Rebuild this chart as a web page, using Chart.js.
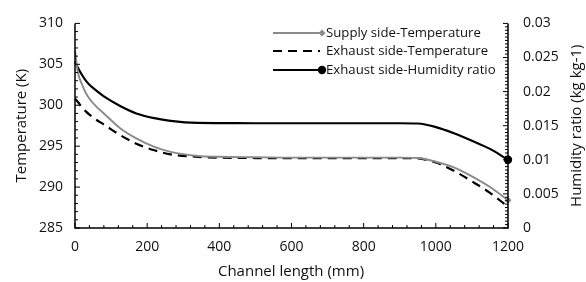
<!doctype html>
<html lang="en">
<head>
<meta charset="utf-8" />
<script src="https://cdn.jsdelivr.net/npm/chart.js@4.4.3/dist/chart.umd.min.js"></script>
<style>
  html, body { margin: 0; padding: 0; background: #fff; }
  #wrap { width: 586px; height: 282px; }
</style>
</head>
<body>
<div id="wrap"><canvas id="chart" width="586" height="282"></canvas></div>
<script>
const channelLength = [0, 8, 20, 30, 40, 60, 80, 125, 170, 220, 265, 340, 400, 500, 600, 700, 800, 900, 950, 1000, 1050, 1100, 1150, 1200];
const supplyTemp = [306.7, 304.0, 302.5, 301.5, 300.8, 299.8, 299.0, 297.2, 295.95, 294.9, 294.3, 293.8, 293.7, 293.65, 293.6, 293.6, 293.6, 293.6, 293.55, 293.1, 292.4, 291.3, 290.0, 288.4];
const exhaustTemp = [300.8, 300.4, 299.7, 299.25, 298.85, 298.2, 297.65, 296.35, 295.3, 294.5, 294.0, 293.7, 293.6, 293.55, 293.55, 293.55, 293.55, 293.55, 293.5, 293.0, 292.0, 290.7, 289.3, 287.6];
const exhaustHumidity = [0.0244, 0.0235, 0.0224, 0.0216, 0.0210, 0.0201, 0.0193, 0.0179, 0.0168, 0.0161, 0.0157, 0.0154, 0.01538, 0.01536, 0.01536, 0.01536, 0.01536, 0.01536, 0.01532, 0.0148, 0.0139, 0.0128, 0.0116, 0.0100];
const seriesNames = ["Supply side-Temperature", "Exhaust side-Temperature", "Exhaust side-Humidity ratio"];
const xTitle = "Channel length (mm)";
const yTitle = "Temperature (K)";
const y1Title = "Humidity ratio (kg kg-1)";

const FONT = '"Open Sans", sans-serif';
const TEXT = "#111";

function pts(ys) {
  return channelLength.map((x, i) => ({ x, y: ys[i] }));
}
function lastOnly(r) {
  return channelLength.map((_, i) => (i === channelLength.length - 1 ? r : 0));
}

const axesPlugin = {
  id: "axesPlugin",
  afterDraw(chart) {
    const ctx = chart.ctx;
    const a = chart.chartArea;
    const x = chart.scales.x, y = chart.scales.y, y1 = chart.scales.y1;
    ctx.save();
    ctx.strokeStyle = "#000";
    ctx.lineWidth = 1.5;
    ctx.beginPath();
    ctx.moveTo(a.left, a.top); ctx.lineTo(a.left, a.bottom); ctx.lineTo(a.right, a.bottom); ctx.lineTo(a.right, a.top);
    ctx.stroke();

    ctx.lineWidth = 1;
    ctx.beginPath();
    for (let v = 0; v <= 1200; v += 40) {
      const px = x.getPixelForValue(v);
      const len = v % 200 === 0 ? 5 : 3;
      ctx.moveTo(px, a.bottom); ctx.lineTo(px, a.bottom - len);
    }
    for (let v = 285; v <= 310; v += 1) {
      const py = y.getPixelForValue(v);
      const len = v % 5 === 0 ? 5 : 3;
      ctx.moveTo(a.left, py); ctx.lineTo(a.left + len, py);
    }
    for (let k = 0; k <= 60; k += 1) {
      const py = y1.getPixelForValue(k * 0.0005);
      const len = k % 10 === 0 ? 5 : 3;
      ctx.moveTo(a.right, py); ctx.lineTo(a.right - len, py);
    }
    ctx.stroke();

    // titles
    ctx.fillStyle = TEXT;
    ctx.font = "15px " + FONT;
    ctx.textAlign = "center";
    ctx.textBaseline = "middle";
    ctx.fillText(xTitle, 291, 272);
    ctx.save();
    ctx.translate(22, (a.top + a.bottom) / 2);
    ctx.rotate(-Math.PI / 2);
    ctx.fillText(yTitle, 0, 0);
    ctx.restore();
    ctx.save();
    ctx.translate(577, (a.top + a.bottom) / 2);
    ctx.rotate(-Math.PI / 2);
    ctx.fillText(y1Title, 0, 0);
    ctx.restore();

    // legend
    const rows = [33, 51, 70];
    ctx.font = "13.2px " + FONT;
    ctx.textAlign = "left";
    chart.data.datasets.forEach((ds, i) => {
      const ly = rows[i];
      ctx.strokeStyle = ds.borderColor;
      ctx.lineWidth = ds.borderWidth;
      ctx.setLineDash(ds.borderDash || []);
      ctx.beginPath();
      ctx.moveTo(273, ly); ctx.lineTo(i === 1 ? 320 : 322, ly);
      ctx.stroke();
      ctx.setLineDash([]);
      ctx.fillStyle = ds.pointBackgroundColor || ds.borderColor;
      if (ds.pointStyle === "rectRot") {
        ctx.beginPath();
        ctx.moveTo(322, ly - 3.5); ctx.lineTo(325.5, ly); ctx.lineTo(322, ly + 3.5); ctx.lineTo(318.5, ly);
        ctx.closePath(); ctx.fill();
      } else if (ds.pointStyle === "circle") {
        ctx.beginPath(); ctx.arc(322, ly, 4.2, 0, Math.PI * 2); ctx.fill();
      }
      ctx.fillStyle = TEXT;
      ctx.fillText(ds.label, 326, ly);
    });
    ctx.restore();
  }
};

new Chart(document.getElementById("chart"), {
  type: "line",
  data: {
    datasets: [
      {
        label: seriesNames[0], data: pts(supplyTemp), yAxisID: "y",
        borderColor: "#8a8a8a", borderWidth: 1.9, pointStyle: "rectRot",
        pointRadius: lastOnly(3.5), pointBackgroundColor: "#8a8a8a", pointBorderWidth: 0,
        cubicInterpolationMode: "monotone", fill: false
      },
      {
        label: seriesNames[1], data: pts(exhaustTemp), yAxisID: "y",
        borderColor: "#000", borderWidth: 2.2, borderDash: [9, 6], pointStyle: false,
        pointRadius: 0, cubicInterpolationMode: "monotone", fill: false
      },
      {
        label: seriesNames[2], data: pts(exhaustHumidity), yAxisID: "y1",
        borderColor: "#000", borderWidth: 2.2, pointStyle: "circle",
        pointRadius: lastOnly(4.2), pointBackgroundColor: "#000", pointBorderWidth: 0,
        cubicInterpolationMode: "monotone", fill: false
      }
    ]
  },
  options: {
    responsive: false,
    animation: false,
    clip: false,
    layout: { padding: { top: 19, left: 0, right: 0, bottom: 0 } },
    plugins: { legend: { display: false }, tooltip: { enabled: false } },
    scales: {
      x: {
        type: "linear", min: 0, max: 1200,
        afterFit: (s) => { s.height = 54; },
        grid: { display: false, drawTicks: false }, border: { display: false },
        ticks: {
          stepSize: 200, padding: 11, color: TEXT, font: { family: FONT, size: 14 },
          callback: (v) => String(v)
        }
      },
      y: {
        position: "left", min: 285, max: 310,
        afterFit: (s) => { s.width = 75; },
        grid: { display: false, drawTicks: false }, border: { display: false },
        ticks: { stepSize: 5, padding: 12, color: TEXT, font: { family: FONT, size: 14 } }
      },
      y1: {
        position: "right", min: 0, max: 0.03,
        afterFit: (s) => { s.width = 78; },
        grid: { display: false, drawTicks: false }, border: { display: false },
        ticks: {
          stepSize: 0.005, padding: 15, color: TEXT, font: { family: FONT, size: 14 },
          callback: (v) => String(+v.toFixed(4))
        }
      }
    }
  },
  plugins: [axesPlugin]
});
</script>
</body>
</html>
